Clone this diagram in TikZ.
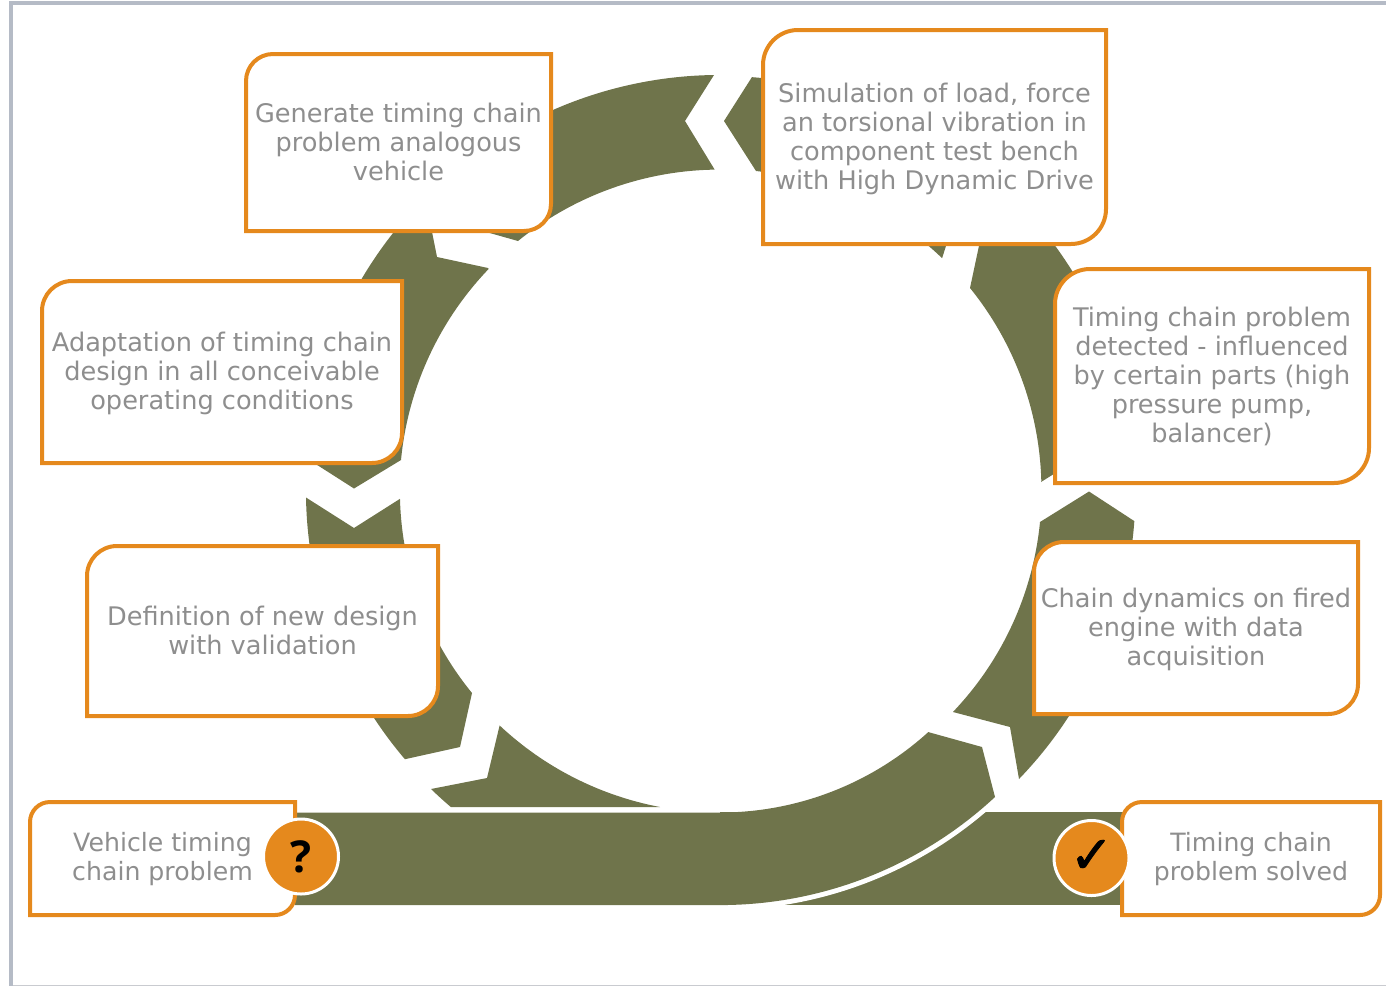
\documentclass[tikz,border=0pt]{standalone}
\usepackage{fontspec}
\setmainfont{DejaVu Sans}
\newfontfamily\qfont{Open Sans}
\newfontfamily\tickfont[FakeBold=1.6]{DejaVu Sans}
\definecolor{olive}{HTML}{6F744B}
\definecolor{accent}{HTML}{E5891D}
\definecolor{txt}{HTML}{8E8E8E}
\definecolor{frametop}{HTML}{B5BBC6}
\definecolor{framebot}{HTML}{C9CBD0}
\tikzset{
  seg/.style={fill=olive,draw=none},
  boxline/.style={draw=accent,line width=4pt,fill=white,line join=miter},
  boxtext/.style={text=txt,align=center,inner sep=0pt,font=\fontsize{25.6}{29}\selectfont},
  smalltext/.style={boxtext,font=\fontsize{25.2}{28.5}\selectfont},
  badge/.style={circle,fill=accent,draw=white,line width=3pt,minimum size=75pt,inner sep=0pt}
}
% #1 name, #2 x1, #3 y1, #4 x2, #5 y2, #6 corner radius, #7 text offset, #8 text
\newcommand{\diagbox}[9][boxtext]{%
  \path[boxline] ({#3},{#6}) -- ({#3},{#4+#7})
    arc[start angle=180,end angle=270,radius=#7pt] -- ({#5},{#4}) -- ({#5},{#6-#7})
    arc[start angle=0,end angle=90,radius=#7pt] -- cycle;
  \node[#1] (#2) at ({(#3+#5)/2},{(#4+#6)/2+#8}) {#9};
}
\begin{document}
\begin{tikzpicture}[x=1pt,y=1pt,yscale=-1]
\useasboundingbox (0,0) rectangle (1386,986);
% frame
\fill[frametop] (9,1) rectangle (1386,5);
\fill[frametop] (9,1) rectangle (13,986);
\fill[framebot] (13,984.6) rectangle (1386,986);
% ring segments
\path[seg] (714,75) arc[start angle=269.2,end angle=231.2,radius=415pt] -- (465,226) -- (518,241)
  arc[start angle=231,end angle=269.1,radius=320.5pt] -- (685,121) -- cycle;
\path[seg] (488,268) -- (437,257) -- (425,197) arc[start angle=224.9,end angle=184.5,radius=415pt]
  -- (354,488.5) -- (401,460) arc[start angle=185.5,end angle=223.8,radius=320.5pt] -- cycle;
\path[seg] (306,497.5) arc[start angle=179,end angle=139.6,radius=415pt] -- (460,747) -- (472,693)
  arc[start angle=140.8,end angle=178.5,radius=320.5pt] -- (354,528) -- cycle;
\path[seg] (431,789) arc[start angle=134.1,end angle=130.4,radius=415pt] -- (451,807) -- (660,807)
  arc[start angle=100.7,end angle=133.2,radius=321.5pt] -- (487,778) -- cycle;
\path[seg] (720,812) rectangle (1125,905);
\draw[white,line width=10pt] (720,905) arc[start angle=90,end angle=47.1,radius=404pt];
\path[seg] (295,812.5) -- (720,812.5) arc[start angle=90,end angle=47.9,radius=310pt] -- (928,732) -- (982,747)
  -- (995,797) arc[start angle=47.1,end angle=90,radius=404pt] -- (295,905) -- cycle;
\path[seg] (953,712) -- (1010,727) -- (1019,779) arc[start angle=44,end angle=4.2,radius=415pt]
  -- (1089,491.5) -- (1040,522) arc[start angle=5.6,end angle=43.6,radius=320.5pt] -- cycle;
\path[seg] (1041,482) -- (1089,452) -- (1135,482) arc[start angle=-1.2,end angle=-40,radius=415pt]
  -- (981.5,234) -- (970,288) arc[start angle=-39,end angle=-1.5,radius=320.5pt] -- cycle;
\path[seg] (752,77) -- (724,121) -- (756,171) arc[start angle=-83.6,end angle=-46.2,radius=320.5pt]
  -- (958,208) -- (1013.6,197) arc[start angle=-45.1,end angle=-85.6,radius=415pt] -- cycle;
% boxes
\diagbox{gen}{246}{54}{551}{231}{27}{-1}{Generate timing chain\\problem analogous\\vehicle}
\diagbox{sim}{763}{30}{1106}{244}{35}{1.5}{Simulation of load, force\\an torsional vibration in\\component test bench\\with High Dynamic Drive}
\diagbox{det}{1055}{269}{1369}{483}{35}{0.5}{Timing chain problem\\detected - influenced\\by certain parts (high\\pressure pump,\\balancer)}
\diagbox{dyn}{1034}{542}{1358}{714}{30}{1}{Chain dynamics on fired\\engine with data\\acquisition}
\diagbox{def}{87}{546}{438}{716}{30}{-1}{Definition of new design\\with validation}
\diagbox{ada}{42}{281}{402}{463}{30}{1}{Adaptation of timing chain\\design in all conceivable\\operating conditions}
\diagbox[smalltext]{veh}{30}{802}{295}{915}{20}{0.5}{Vehicle timing\\chain problem}
\diagbox[smalltext]{sol}{1122}{802}{1380}{915}{20}{0.5}{Timing chain\\problem solved}
% badges
\node[badge,font=\qfont\fontsize{44}{44}\selectfont\bfseries] (q) at (301,856.5) {?};
\node[badge,font=\tickfont\fontsize{52}{52}\selectfont] (c) at (1091.5,858) {\raisebox{3pt}{✓}};
\end{tikzpicture}
\end{document}
